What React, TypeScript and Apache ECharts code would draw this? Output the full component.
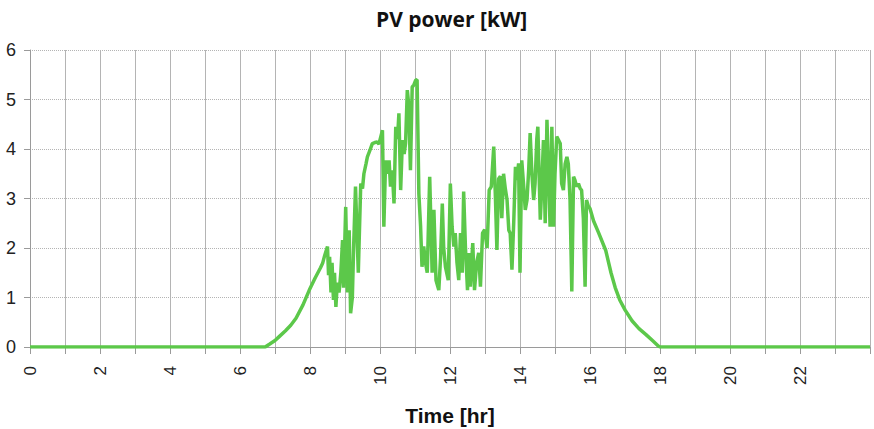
import React, { useEffect, useRef } from "react";
import * as echarts from "echarts";

const chartTitle = "PV power [kW]";
const xAxisTitle = "Time [hr]";

// time of day in hours
const timeHr: number[] = [
  0, 6.72, 6.85, 7.0, 7.12, 7.3, 7.45, 7.6, 7.8, 7.98, 8.15, 8.3, 8.36, 8.42, 8.5,
  8.53, 8.56, 8.6, 8.63, 8.67, 8.7, 8.74, 8.78, 8.83, 8.88, 8.93, 8.96, 9.02, 9.07,
  9.12, 9.16, 9.21, 9.25, 9.3, 9.38, 9.45, 9.5, 9.54, 9.6, 9.64, 9.7, 9.78, 9.85,
  9.92, 9.97, 10.02, 10.07, 10.11, 10.16, 10.21, 10.26, 10.3, 10.35, 10.4, 10.45,
  10.5, 10.54, 10.59, 10.64, 10.69, 10.73, 10.78, 10.82, 10.87, 10.92, 10.97, 11.02,
  11.06, 11.11, 11.16, 11.2, 11.25, 11.3, 11.35, 11.42, 11.49, 11.54, 11.6, 11.68,
  11.73, 11.78, 11.82, 11.87, 11.95, 12.01, 12.06, 12.11, 12.15, 12.2, 12.25, 12.3,
  12.35, 12.39, 12.44, 12.5, 12.54, 12.58, 12.65, 12.7, 12.76, 12.82, 12.87, 12.93,
  12.99, 13.06, 13.12, 13.18, 13.25, 13.3, 13.34, 13.39, 13.44, 13.48, 13.53, 13.58,
  13.63, 13.68, 13.72, 13.77, 13.82, 13.87, 13.91, 13.96, 14.0, 14.05, 14.1, 14.15,
  14.2, 14.25, 14.29, 14.34, 14.39, 14.43, 14.48, 14.51, 14.58, 14.62, 14.67, 14.72,
  14.77, 14.82, 14.86, 14.91, 14.96, 15.0, 15.05, 15.1, 15.15, 15.19, 15.24, 15.29,
  15.34, 15.38, 15.43, 15.48, 15.53, 15.57, 15.62, 15.67, 15.72, 15.76, 15.81, 15.86,
  15.9, 15.95, 16.0, 16.1, 16.25, 16.45, 16.6, 16.72, 16.85, 17.0, 17.2, 17.4, 17.6,
  17.8, 17.95, 18.0, 24,
];

// PV power in kW
const powerKw: number[] = [
  0, 0, 0.06, 0.13, 0.21, 0.33, 0.44, 0.58, 0.85, 1.15, 1.4, 1.6, 1.69, 1.85, 2.03,
  1.45, 1.82, 1.1, 1.7, 0.95, 1.5, 0.81, 1.3, 1.1, 1.49, 2.16, 1.2, 2.83, 1.1,
  2.36, 0.68, 1.0, 2.1, 3.24, 1.5, 3.3, 3.2, 3.5, 3.7, 3.84, 3.95, 4.11, 4.13,
  4.14, 4.1, 4.24, 4.38, 2.43, 3.77, 3.5, 3.77, 3.24, 3.57, 2.9, 4.45,
  4.2, 4.72, 3.17, 4.18, 3.9, 4.11, 5.19, 4.9, 3.57, 5.25, 5.3, 5.39,
  5.4, 3.1, 2.43, 1.62, 2.03, 1.7, 1.5, 3.44, 1.5, 2.77, 1.35, 1.15,
  1.8, 2.9, 2.0, 1.62, 1.35, 3.3, 2.43, 2.03, 2.3, 1.7, 1.35, 2.3,
  1.5, 3.14, 2.03, 1.15, 1.9, 1.22, 2.1, 1.15, 1.7, 1.9, 1.22, 2.3,
  2.37, 2.0, 3.17, 3.24, 4.05, 2.97, 1.96, 3.4, 3.45, 2.6, 3.5, 3.2,
  2.97, 2.36, 2.3, 1.56, 2.5, 3.64, 3.37, 3.71, 1.5, 3.77, 3.3, 2.77,
  2.97, 3.6, 4.32, 3.5, 2.97, 3.3, 4.2, 4.45, 2.57, 3.2, 4.18, 2.5,
  4.59, 3.4, 2.43, 4.45, 2.43, 3.5, 4.25, 4.18, 4.11, 3.3, 3.17, 3.7,
  3.84, 3.7, 2.97, 1.12, 3.44, 3.37, 3.24, 3.3, 3.2, 3.17, 2.6, 1.22,
  2.97, 2.85, 2.8, 2.55, 2.3, 1.95, 1.5, 1.2, 0.95, 0.75, 0.53, 0.37, 0.25,
  0.12, 0.02, 0, 0,
];

const xTickLabels: number[] = [0, 2, 4, 6, 8, 10, 12, 14, 16, 18, 20, 22];

export default function App() {
  const ref = useRef<HTMLDivElement>(null);

  useEffect(() => {
    document.body.style.margin = "0";
    if (!ref.current) return;
    const chart = echarts.init(ref.current, undefined, { renderer: "svg" });
    const data = timeHr.map((t, i) => [t, powerKw[i]]);
    chart.setOption({
      animation: false,
      backgroundColor: "#ffffff",
      title: {
        text: chartTitle,
        left: 371,
        top: 3,
        textStyle: {
          fontFamily: "Open Sans",
          fontWeight: "bold",
          fontSize: 21,
          color: "#111111",
        },
      },
      grid: { left: 30, right: 4, top: 50, bottom: 82, outerBoundsMode: "none", containLabel: false },
      xAxis: {
        type: "value",
        min: 0,
        max: 24,
        interval: 1,
        name: xAxisTitle,
        nameLocation: "middle",
        nameGap: 58,
        nameTextStyle: {
          fontFamily: "Liberation Sans",
          fontWeight: "bold",
          fontSize: 21,
          color: "#111111",
        },
        axisLine: { show: true, lineStyle: { color: "#9a9a9a", width: 1 } },
        axisTick: { show: true, length: 7, lineStyle: { color: "#9a9a9a" } },
        splitLine: { show: true, lineStyle: { color: "#b4b4b4", width: 1, type: "solid" } },
        axisLabel: {
          rotate: 90,
          margin: 19,
          fontFamily: "Liberation Sans",
          fontSize: 17,
          color: "#222222",
          formatter: (v: number) => (xTickLabels.includes(v) ? String(v) : ""),
        },
      },
      yAxis: {
        type: "value",
        min: 0,
        max: 6,
        interval: 1,
        axisLine: { show: true, lineStyle: { color: "#9a9a9a", width: 1 } },
        axisTick: { show: true, length: 6, lineStyle: { color: "#9a9a9a" } },
        splitLine: { show: true, lineStyle: { color: "#b4b4b4", width: 1, type: "dotted" } },
        axisLabel: {
          margin: 14,
          fontFamily: "Liberation Sans",
          fontSize: 18,
          color: "#222222",
        },
      },
      series: [
        {
          type: "line",
          data,
          showSymbol: false,
          symbol: "none",
          lineStyle: { color: "#5cc84a", width: 3.5 },
          itemStyle: { color: "#5cc84a" },
        },
      ],
    });
    return () => chart.dispose();
  }, []);

  return <div ref={ref} style={{ width: 874, height: 429 }} />;
}
